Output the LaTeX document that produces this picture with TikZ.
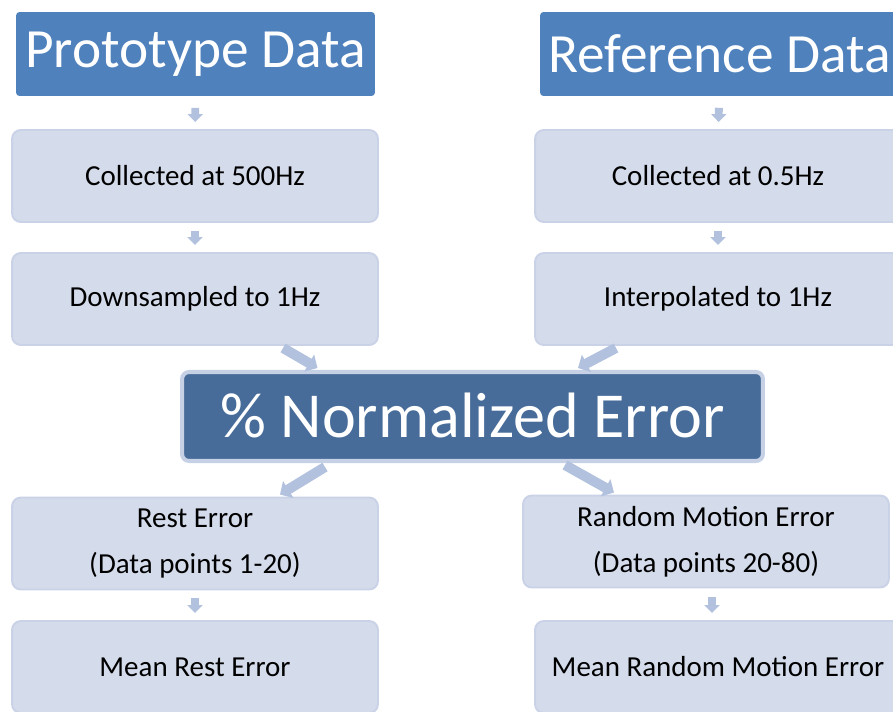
\documentclass[tikz,border=0pt]{standalone}
\usepackage{fontspec}
\setmainfont{Carlito}
\usetikzlibrary{arrows.meta,calc,positioning}
\definecolor{darkbox}{HTML}{4F81BD}
\definecolor{midbox}{HTML}{486C9A}
\definecolor{midedge}{HTML}{C7D1E6}
\definecolor{lightbox}{HTML}{D4DBEB}
\definecolor{lightedge}{HTML}{C9D2E6}
\definecolor{flowcol}{HTML}{B2C2DE}

\begin{document}
\begin{tikzpicture}[x=0.02cm, y=-0.02cm,
    titlebox/.style={fill=darkbox, rounded corners=2pt, inner sep=0pt,
        minimum width=7.18cm, minimum height=1.68cm, text=white,
        font=\fontsize{31.5}{37}\selectfont},
    stepbox/.style={fill=lightbox, draw=lightedge, line width=1.1pt, rounded corners=5pt,
        inner sep=0pt, minimum width=7.32cm, minimum height=1.84cm, align=center,
        font=\fontsize{16.5}{26}\selectfont},
    errbox/.style={fill=midbox, draw=midedge, line width=2.3pt, rounded corners=4pt,
        inner sep=0pt, minimum width=11.62cm, minimum height=1.78cm, text=white,
        font=\fontsize{36.5}{42}\selectfont},
    smallflow/.style={draw=flowcol, line width=4.5pt, -{Triangle[width=8.5pt,length=4.5pt]}},
    bigflow/.style={draw=flowcol, line width=5.7pt, -{Triangle[width=11pt,length=5.5pt]}}]
    \clip (0,0) rectangle (893,711);

    % left column
    \node[titlebox] (proto) at (195.5,54) {Prototype Data};
    \node[stepbox] (col500) at (195,176) {Collected at 500Hz};
    \node[stepbox] (down1) at (195,299) {Downsampled to 1Hz};
    % right column
    \node[titlebox] (ref) at (719.5,54) {Reference Data};
    \node[stepbox] (col05) at (718,176) {Collected at 0.5Hz};
    \node[stepbox] (interp) at (718,299) {Interpolated to 1Hz};

    \node[errbox] (norm) at (472.5,416.5) {\raisebox{2pt}{\% Normalized Error}};

    \node[stepbox] (rest) at (195,543.5) {\raisebox{-1.5pt}{Rest Error}\\\raisebox{-1.5pt}{(Data points 1-20)}};
    \node[stepbox] (meanrest) at (195,667) {Mean Rest Error};
    \node[stepbox] (random) at (706,541.5) {\raisebox{-1.5pt}{Random Motion Error}\\\raisebox{-1.5pt}{(Data points 20-80)}};
    \node[stepbox] (meanrand) at (718,667) {Mean Random Motion Error};

    \draw[smallflow, shorten <=6.5pt, shorten >=4pt] (proto) -- (col500);
    \draw[smallflow, shorten <=4.5pt, shorten >=4pt] (col500) -- (down1);
    \draw[smallflow, shorten <=6.5pt, shorten >=4pt] (ref) -- (col05);
    \draw[smallflow, shorten <=4.5pt, shorten >=4pt] (col05) -- (interp);
    \draw[smallflow, shorten <=4.5pt, shorten >=4pt] (rest) -- (meanrest);
    \draw[smallflow, shorten <=5pt, shorten >=4pt]
        ($(random.south)+(6,0)$) -- ($(meanrand.north)+(-6,0)$);

    \draw[bigflow] ($(down1.south)+(88,2)$) -- ($(norm.north)+(-155,-2)$);
    \draw[bigflow] ($(interp.south)+(-102,2)$) -- ($(norm.north)+(105.5,-2)$);
    \draw[bigflow] ($(norm.south)+(-147.5,4)$) -- ($(rest.north)+(85,-2)$);
    \draw[bigflow] ($(norm.south)+(92.5,2)$) -- ($(random.north)+(-92,-2)$);
\end{tikzpicture}
\end{document}
